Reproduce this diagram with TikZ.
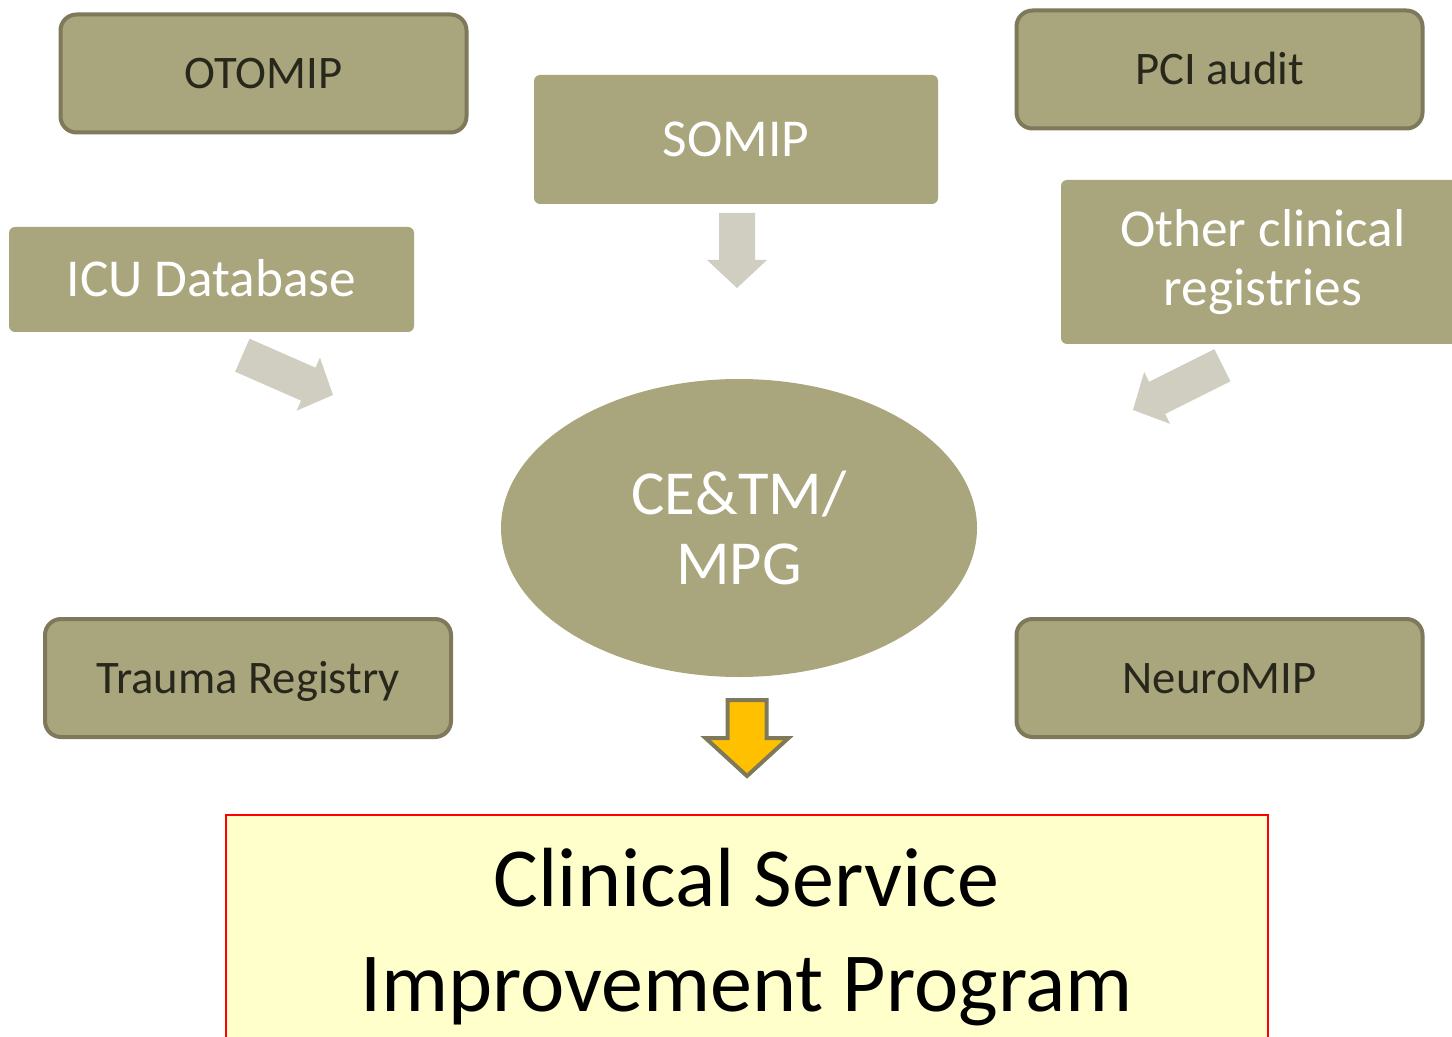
\documentclass[tikz,border=0pt]{standalone}
\usepackage{fontspec}
\setmainfont{Carlito}
\usetikzlibrary{shapes.geometric}

\definecolor{olivefill}{RGB}{169,165,124}
\definecolor{olivedark}{RGB}{125,121,90}
\definecolor{olivetext}{RGB}{40,39,28}
\definecolor{arrowgray}{RGB}{208,206,192}
\definecolor{csipfill}{RGB}{255,255,204}
\definecolor{csipred}{RGB}{255,0,0}
\definecolor{amber}{RGB}{255,192,0}

\tikzset{every picture/.style={line width=0.75pt}}
\tikzset{
  framedbox/.style={draw=olivedark, line width=3pt, fill=olivefill, rounded corners=12pt,
    minimum width=304.5pt, minimum height=88.5pt, inner sep=0pt, text=olivetext,
    font=\fontsize{35}{42}\selectfont, text height=22.5pt, text depth=0pt},
  plainbox/.style={fill=olivefill, rounded corners=4.5pt, inner sep=0pt, text=white,
    font=\fontsize{40}{44}\selectfont},
  hubshape/.style={ellipse, fill=olivefill, inner sep=0pt, minimum width=357pt,
    minimum height=223.5pt, text=white, align=center, font=\fontsize{47}{52.5}\selectfont},
  csipbox/.style={draw=csipred, line width=1.5pt, fill=csipfill, inner sep=0pt,
    minimum width=781.5pt, minimum height=183pt, align=center,
    font=\fontsize{63}{78.75}\selectfont},
  grayarrow/.style={fill=arrowgray, draw=none},
  amberarrow/.style={fill=amber, draw=olivedark, line width=3pt}
}

\begin{document}
\begin{tikzpicture}[x=0.75pt,y=0.75pt,yscale=-1,xscale=1]
\useasboundingbox (0,0) rectangle (1452,1037);
\clip (0,0) rectangle (1452,1037);

%Shape: Rectangle [otomip]
\node [framedbox] (otomip) at (263.5,73.5) {OTOMIP};
%Shape: Rectangle [pciAudit]
\node [framedbox] (pciAudit) at (1219.5,69.5) {PCI audit};
%Shape: Rectangle [trauma]
\node [framedbox] (trauma) at (248,678) {Trauma Registry};
%Shape: Rectangle [neuroMIP]
\node [framedbox] (neuroMIP) at (1219.5,678) {NeuroMIP};

%Shape: Rectangle [somip]
\node [plainbox, minimum width=303pt, minimum height=96.75pt, text height=25.8pt, text depth=0pt] (somip) at (736,139.5) {SOMIP};
%Shape: Rectangle [icuDb]
\node [plainbox, minimum width=303.75pt, minimum height=78.75pt, text height=25.8pt, text depth=0pt] (icuDb) at (211.5,279.5) {ICU Database};
%Shape: Rectangle [otherReg]
\node [plainbox, minimum width=303pt, minimum height=123pt, align=center] (otherReg) at (1263,262) {Other clinical\\registries};

%Shape: Ellipse [hub]
\node [hubshape] (hub) at (739,528) {CE\&TM/\\MPG};

%Shape: Block Arrow (from SOMIP)
\draw [grayarrow, shift={(737,288)}, rotate=90] (0,0) -- (-28,30) -- (-28,18) -- (-75,18) -- (-75,-18) -- (-28,-18) -- (-28,-30) -- cycle ;
%Shape: Block Arrow (from ICU Database)
\draw [grayarrow, shift={(333,395)}, rotate=23.7] (0,0) -- (-27,29) -- (-27,18) -- (-99,18) -- (-99,-18) -- (-27,-18) -- (-27,-29) -- cycle ;
%Shape: Block Arrow (from other registries)
\draw [grayarrow, shift={(1133,410)}, rotate=153.4] (0,0) -- (-27,29) -- (-27,18) -- (-100,18) -- (-100,-18) -- (-27,-18) -- (-27,-29) -- cycle ;

%Shape: Block Arrow (to program)
\draw [amberarrow, shift={(747,776)}, rotate=90] (0,0) -- (-38,41.5) -- (-38,19.5) -- (-76,19.5) -- (-76,-19.5) -- (-38,-19.5) -- (-38,-41.5) -- cycle ;

%Shape: Rectangle [csip]
\node [csipbox] (csip) at (746.5,937) {Clinical Service\\Improvement Program};

\end{tikzpicture}
\end{document}
